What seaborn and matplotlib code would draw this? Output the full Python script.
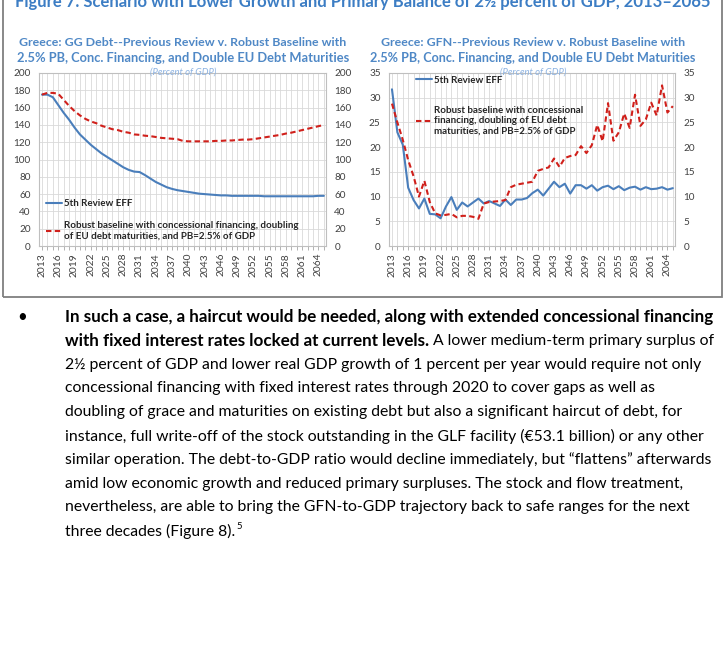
import matplotlib
matplotlib.use("Agg")
import matplotlib.pyplot as plt
import seaborn as sns
import pandas as pd
from matplotlib.lines import Line2D
from matplotlib.patches import Rectangle
from matplotlib.ticker import MultipleLocator

# ---------------- data ----------------
years = list(range(2013, 2066))

gg_5th_review = [175, 175, 172, 163, 154, 146, 137, 129, 123, 117, 112, 107, 103, 99, 95, 91,
                 88, 86, 85.5, 82, 78, 74, 71, 68, 66, 64.5, 63.5, 62.5, 61.5, 60.5, 60, 59.5,
                 59, 58.5, 58.5, 58, 58, 58, 58, 58, 58, 57.5, 57.5, 57.5, 57.5, 57.5, 57.5,
                 57.5, 57.5, 57.5, 57.5, 58, 58]
gg_robust = [175, 177, 177, 176, 169, 162, 156, 151, 147, 144, 142, 139, 137, 135, 134, 132,
             131, 129, 128.5, 127.5, 127, 126, 125, 124.5, 124, 123.5, 121.5, 121, 121, 121,
             121, 121, 121.5, 121.5, 122, 122, 122.5, 123, 123, 123.5, 124.5, 125.5, 126.5,
             127.5, 128.5, 130, 131, 132.5, 134, 135.5, 137, 138.5, 140]

gfn_5th_review = [31.7, 23.0, 20.5, 11.8, 9.3, 7.6, 9.6, 6.5, 6.4, 5.6, 8.0, 9.9, 7.3, 8.8, 8.0,
                  8.8, 9.6, 8.6, 9.1, 8.6, 8.1, 9.4, 8.3, 9.4, 9.4, 9.7, 10.7, 11.4, 10.2, 11.6,
                  13.0, 11.9, 12.6, 10.6, 12.3, 12.3, 11.6, 12.3, 11.2, 11.9, 12.2, 11.5, 12.1,
                  11.3, 11.8, 12.0, 11.4, 11.9, 11.5, 11.6, 11.9, 11.4, 11.7]
gfn_robust = [28.8, 25.0, 21.5, 17.4, 14.1, 10.0, 13.2, 8.9, 6.6, 6.2, 6.3, 6.5, 5.8, 6.1, 6.1,
              5.9, 5.5, 8.6, 8.9, 9.0, 9.1, 9.3, 11.9, 12.4, 12.6, 12.8, 13.0, 15.2, 15.6, 15.9,
              17.7, 16.0, 17.8, 18.2, 18.4, 20.2, 18.8, 20.4, 24.5, 21.2, 28.9, 21.3, 23.0, 26.8,
              23.9, 30.6, 24.3, 25.6, 29.0, 26.4, 32.5, 27.0, 28.3]

xtick_years = list(range(2013, 2066, 3))

label_5th = "5th Review EFF"
label_rob_left = "Robust baseline with concessional financing, doubling\nof EU debt maturities, and PB=2.5% of GDP"
label_rob_right = "Robust baseline with concessional\nfinancing, doubling of EU debt\nmaturities, and PB=2.5% of GDP"

fig_title = "Figure 7. Scenario with Lower Growth and Primary Balance of 2\u00bd percent of GDP, 2013\u20132065"
left_title = ["Greece: GG Debt--Previous Review v. Robust Baseline with",
              "2.5% PB, Conc. Financing, and Double EU Debt Maturities"]
right_title = ["Greece: GFN--Previous Review v. Robust Baseline with",
               "2.5% PB, Conc. Financing, and Double EU Debt Maturities"]
units = "(Percent of GDP)"

para_lines = [
    [("In such a case, a haircut would be needed, along with extended concessional financing", "bold")],
    [("with fixed interest rates locked at current levels.", "bold"),
     (" A lower medium-term primary surplus of", "normal")],
    [("2\u00bd percent of GDP and lower real GDP growth of 1 percent per year would require not only", "normal")],
    [("concessional financing with fixed interest rates through 2020 to cover gaps as well as", "normal")],
    [("doubling of grace and maturities on existing debt but also a significant haircut of debt, for", "normal")],
    [("instance, full write-off of the stock outstanding in the GLF facility (\u20ac53.1 billion) or any other", "normal")],
    [("similar operation. The debt-to-GDP ratio would decline immediately, but \u201cflattens\u201d afterwards", "normal")],
    [("amid low economic growth and reduced primary surpluses. The stock and flow treatment,", "normal")],
    [("nevertheless, are able to bring the GFN-to-GDP trajectory back to safe ranges for the next", "normal")],
    [("three decades (Figure 8).", "normal"), ("5", "sup")],
]

# ---------------- style ----------------
sns.set_theme(style="white")
plt.rcParams['font.family'] = ['Lato', 'DejaVu Sans']

BLUE = "#4A7EBB"
RED = "#D0201B"
TITLE_BLUE = "#3C7DC4"
SUB_BLUE = "#4F88C6"
UNIT_BLUE = "#8DB3E2"
GRID = "#D9D9D9"
TICKC = "#404040"

W, H = 726, 652
fig = plt.figure(figsize=(W / 100, H / 100), dpi=100)
renderer = fig.canvas.get_renderer()


def fx(x):
    return x / W


def fy(y):
    return 1 - y / H


def px_axes(x0, y0, x1, y1):
    return fig.add_axes([fx(x0), fy(y1), (x1 - x0) / W, (y1 - y0) / H])


def fit_text(t, width_px):
    w = t.get_window_extent(renderer).width
    t.set_fontsize(t.get_fontsize() * width_px / w)


def draw_chart(ax, s1, s2, ymax, ystep, leg_label, leg_anchor, leg_spacing):
    df = pd.DataFrame({"year": years, "a": s1, "b": s2})
    sns.lineplot(data=df, x="year", y="a", ax=ax, color=BLUE, lw=1.5, label=label_5th)
    sns.lineplot(data=df, x="year", y="b", ax=ax, color=RED, lw=1.5, label=leg_label)
    ax.lines[-1].set_dashes([2.6, 1.6])
    ax.set_xlim(2012.45, 2065.4)
    ax.set_ylim(0, ymax)
    ax.set_xlabel("")
    ax.set_ylabel("")
    ax.set_xticks(xtick_years)
    ax.set_xticklabels([str(y) for y in xtick_years], rotation=90, fontsize=7.4, color=TICKC)
    ax.xaxis.set_minor_locator(MultipleLocator(1))
    ax.yaxis.set_major_locator(MultipleLocator(ystep))
    ax.tick_params(axis="y", labelsize=7.2, colors=TICKC, labelright=True, left=False,
                   right=False, length=0, pad=6)
    ax.tick_params(axis="x", which="both", bottom=True, length=3, width=0.6, color="#A6A6A6", pad=2)
    ax.grid(True, axis="x", which="minor", color=GRID, lw=0.6)
    ax.grid(True, axis="x", which="major", color=GRID, lw=0.6)
    ax.grid(True, axis="y", which="major", color=GRID, lw=0.6)
    ax.set_axisbelow(True)
    for s in ax.spines.values():
        s.set_color("#BFBFBF")
        s.set_linewidth(0.8)
    h = [Line2D([], [], color=BLUE, lw=1.5),
         Line2D([], [], color=RED, lw=1.5, dashes=[2.6, 1.6])]
    ax.legend(h, [label_5th, leg_label], loc="upper left", bbox_to_anchor=leg_anchor,
              frameon=False, prop={"weight": "bold", "size": 7}, handlelength=1.6,
              handletextpad=0.25, labelspacing=leg_spacing, borderaxespad=0, borderpad=0)


axL = px_axes(39, 73, 326, 246)
draw_chart(axL, gg_5th_review, gg_robust, 200, 20, label_rob_left, (0.025, 0.27), 1.35)

axR = px_axes(389, 73, 675, 246)
draw_chart(axR, gfn_5th_review, gfn_robust, 35, 5, label_rob_right, (0.095, 0.985), 2.2)

# ---------------- titles ----------------
t = fig.text(fx(363), fy(7), fig_title, ha="center", va="baseline", fontsize=12.5,
             weight="bold", color=TITLE_BLUE)
fit_text(t, 700)

for cx, lines, widths in [(183, left_title, (328, 332)), (533, right_title, (303, 325))]:
    for i, (ln, wd) in enumerate(zip(lines, widths)):
        tt = fig.text(fx(cx), fy(43 + 15 * i), ln, ha="center", va="center", fontsize=8.3,
                      weight="bold", color=SUB_BLUE)
        fit_text(tt, wd)
    fig.text(fx(cx), fy(72), units, ha="center", va="center", fontsize=6.8,
             style="italic", color=UNIT_BLUE)

# frame box
fig.add_artist(Rectangle((fx(3), fy(297)), fx(719), fy(-10) - fy(297), transform=fig.transFigure,
                         fill=False, edgecolor="#7F7F7F", lw=1.3))

# ---------------- paragraph ----------------
x_text = 65
y0 = 317
dy = 23.8
probe = fig.text(0, 0, para_lines[0][0][0], fontsize=11, weight="bold")
fit_text(probe, 648)
fs_bold = probe.get_fontsize()
probe.remove()
probe = fig.text(0, 0, para_lines[6][0][0], fontsize=11, weight="normal")
fit_text(probe, 648)
fs_norm = probe.get_fontsize()
probe.remove()

fig.text(fx(17), fy(y0), "\u2022", ha="left", va="center", fontsize=fs_bold, color="black")
for i, segs in enumerate(para_lines):
    x = x_text
    y = y0 + dy * i
    for txt, kind in segs:
        if kind == "sup":
            tt = fig.text(fx(x + 1), fy(y - 5), txt, ha="left", va="center",
                          fontsize=fs_norm * 0.6, color="black")
        else:
            tt = fig.text(fx(x), fy(y), txt, ha="left", va="center",
                          fontsize=fs_bold if kind == "bold" else fs_norm,
                          weight=kind, color="black")
        x += tt.get_window_extent(renderer).width

fig.savefig("out.png", dpi=100)
